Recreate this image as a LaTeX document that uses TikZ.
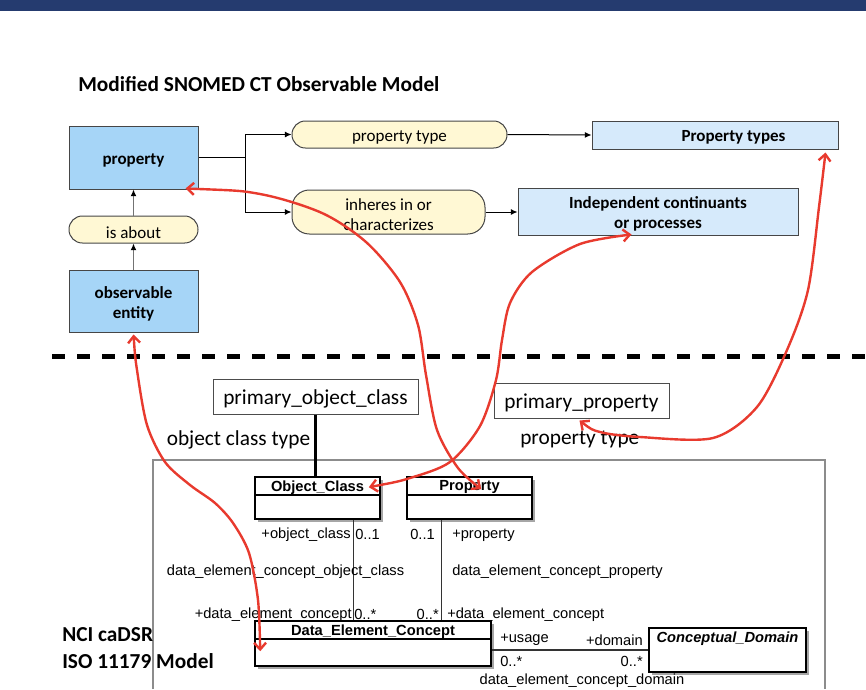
\documentclass[tikz,border=0pt]{standalone}
\usepackage{fontspec}
\setmainfont{Carlito}
\newfontfamily\arialf{Liberation Sans}
\usetikzlibrary{arrows.meta,shadows,calc}
\definecolor{navy}{RGB}{37,59,111}
\definecolor{blueA}{RGB}{166,213,247}
\definecolor{blueB}{RGB}{214,234,251}
\definecolor{pillc}{RGB}{255,248,212}
\definecolor{redc}{RGB}{232,58,46}
\definecolor{bord}{RGB}{70,70,70}
\newcommand\toptxt{\fontsize{12.75}{15}\selectfont}
\newcommand\titletxt{\fontsize{16}{19}\selectfont\bfseries}
\newcommand\umltxt{\arialf\fontsize{11}{13}\selectfont}
\newcommand\bigtxt{\fontsize{16}{19}\selectfont}
\begin{document}
\begin{tikzpicture}[x=0.75pt,y=-0.75pt,
  bbox/.style={draw=bord, line width=0.75pt, inner sep=0pt},
  pill/.style={draw=bord, line width=0.75pt, fill=pillc, rounded corners=10pt, inner sep=0pt},
  ttext/.style={inner sep=0pt, align=center, font=\toptxt, yshift=-2pt},
  btext/.style={ttext, font=\toptxt\bfseries},
  link/.style={draw=black, line width=0.75pt},
  linkarr/.style={link, -{Latex[length=5pt,width=4.5pt]}},
  grayarr/.style={draw=black!55, line width=0.9pt, -{Latex[length=5pt,width=4.5pt,color=black]}},
  typebox/.style={draw=black!70, line width=0.75pt, fill=white, inner sep=0pt},
  bigtext/.style={font=\bigtxt, inner sep=0pt, yshift=-1.8pt},
  umlbox/.style={draw=black, line width=1.2pt, fill=white, inner sep=0pt,
    general shadow={fill=black!35, shadow xshift=2.5pt, shadow yshift=-2.5pt}},
  umltitle/.style={font=\umltxt\bfseries, inner sep=0pt, yshift=-1.2pt},
  umllab/.style={font=\umltxt, inner sep=0pt, yshift=-1.4pt},
  umlc/.style={draw=black!80, line width=0.8pt},
  typelink/.style={draw=black, line width=1.6pt},
  redarr/.style={draw=redc, line width=1.8pt,
    {Straight Barb[length=5pt,width=9pt]}-{Straight Barb[length=5pt,width=9pt]}}
]
\useasboundingbox (0,0) rectangle (866,689);
\fill[navy] (0,0) rectangle (866,11);

% ---------------- upper model ----------------
\node[anchor=west, font=\titletxt, inner sep=0pt] (title) at (78,84) {Modified SNOMED CT Observable Model};

\node[bbox, fill=blueA, minimum width=96.75pt, minimum height=47.25pt] (prop) at (133.5,157.5) {};
\node[btext] (proptxt) at (prop) {property};
\node[pill, minimum width=96.75pt, minimum height=20.25pt] (isabout) at (133.5,229.5) {};
\node[ttext] (isabouttxt) at (isabout) {is about};
\node[bbox, fill=blueA, minimum width=96.75pt, minimum height=46.5pt] (obs) at (133.5,301) {};
\node[btext] (obstxt) at (obs) {observable\\entity};

\node[pill, minimum width=161.25pt, minimum height=20.25pt] (ptype) at (399.5,134.5) {};
\node[ttext] (ptypetxt) at (ptype) {property type};
\node[pill, rounded corners=13pt, minimum width=144.75pt, minimum height=33pt] (inheres) at (388.5,212) {};
\node[ttext] (inherestxt) at (inheres) {inheres in or\\characterizes};

\node[bbox, fill=blueB, minimum width=184.5pt, minimum height=21pt] (ptypes) at (715,135) {};
\node[btext] (ptypestxt) at (733.5,135) {Property types};
\node[bbox, fill=blueB, minimum width=210pt, minimum height=35.25pt] (indep) at (658,211.5) {};
\node[btext] (indeptxt) at (indep) {Independent continuants\\or processes};

\draw[grayarr] (isabout.north) -- (prop.south);
\draw[grayarr] (obs.north) -- (isabout.south);
\draw[link] (prop.east) -- ++(47,0) coordinate (br);
\draw[linkarr] (br) |- (ptype.west);
\draw[linkarr] (br) |- (inheres.west);
\draw[linkarr] (ptype.east) -- (ptypes.west);
\draw[linkarr] (inheres.east) -- (indep.west |- inheres.east);

% ---------------- dashed separator ----------------
\draw[line width=3.75pt, dash pattern=on 9.75pt off 9pt] (52,356) -- (866,356);

% ---------------- lower model ----------------
\draw[black!45, line width=0.8pt] (153,689) -- (153,460) -- (825,460) -- (825,689);

\node[typebox, minimum width=153.75pt, minimum height=26.25pt] (poc) at (315.5,396.5) {};
\node[bigtext] (poctxt) at (poc) {primary\_object\_class};
\node[typebox, minimum width=131.25pt, minimum height=26.25pt] (pp) at (581.5,400.5) {};
\node[bigtext] (pptxt) at (pp) {primary\_property};
\node[bigtext] (octype) at (238.5,438) {object class type};
\node[bigtext, anchor=west] (pptype) at (520,437) {property type};

\node[umlbox, minimum width=93.75pt, minimum height=31.5pt] (oc) at (317.5,498) {};
\node[umlbox, minimum width=93.75pt, minimum height=31.5pt] (propU) at (469.5,498) {};
\node[umlbox, minimum width=177pt, minimum height=33.75pt] (dec) at (373,643.5) {};
\node[umlbox, minimum width=117.75pt, minimum height=33pt] (cd) at (727.5,650) {};

\draw[black, line width=1.2pt] ($(oc.north west)+(0,19)$) -- ($(oc.north east)+(0,19)$);
\draw[black, line width=1.2pt] ($(propU.north west)+(0,19)$) -- ($(propU.north east)+(0,19)$);
\draw[black, line width=1.2pt] ($(dec.north west)+(0,19)$) -- ($(dec.north east)+(0,19)$);

\node[umltitle] (octitle) at ($(oc.north)+(0,9.5)$) {Object\_Class};
\node[umltitle] (proptitle) at ($(propU.north)+(0,9.5)$) {Property};
\node[umltitle] (dectitle) at ($(dec.north)+(0,10)$) {Data\_Element\_Concept};
\node[umltitle, font=\umltxt\bfseries\itshape] (cdtitle) at ($(cd.north)+(0,10)$) {Conceptual\_Domain};

\draw[typelink] (poc.south) -- (poc.south |- oc.north);
\draw[typelink] ($(pp.south west)+(20,0)$) -- ($(pp.south west)+(20,0)$ |- propU.north);

\draw[umlc] ($(oc.south east)+(-27,0)$) coordinate (ocdown) -- (ocdown |- dec.north);
\draw[umlc] ($(propU.south west)+(35,0)$) coordinate (propdown) -- (propdown |- dec.north);
\draw[umlc] (dec.east |- cd.west) -- (cd.west);

\node[umllab, anchor=east] (l1) at (351,533) {+object\_class};
\node[umllab, anchor=west] (l2) at (355,533) {0..1};
\node[umllab, anchor=east] (l3) at (435,533) {0..1};
\node[umllab, anchor=west] (l4) at (452,533) {+property};
\node[umllab] (l5) at (285.5,570) {data\_element\_concept\_object\_class};
\node[umllab, anchor=west] (l6) at (452,570) {data\_element\_concept\_property};
\node[umllab, anchor=east] (l7) at (352,613) {+data\_element\_concept};
\node[umllab, anchor=west] (l8) at (354,613) {0..*};
\node[umllab, anchor=east] (l9) at (439,613) {0..*};
\node[umllab, anchor=west] (l10) at (447,613) {+data\_element\_concept};
\node[umllab, anchor=west] (l11) at (500,638) {+usage};
\node[umllab, anchor=east] (l12) at (643,638) {+domain};
\node[umllab, anchor=west] (l13) at (500,660) {0..*};
\node[umllab, anchor=east] (l14) at (643,660) {0..*};
\node[umllab] (l15) at (582,679) {data\_element\_concept\_domain};

\node[font=\bigtxt\bfseries, anchor=west, inner sep=0pt, yshift=-1.5pt] (nci1) at (62,633) {NCI caDSR};
\node[font=\bigtxt\bfseries, anchor=west, inner sep=0pt, yshift=-1.5pt] (nci2) at (62,659) {ISO 11179 Model};

% ---------------- red mapping curves ----------------
\coordinate (r1a) at ($(prop.south east)+(-13,-1)$);
\coordinate (r1b) at ($(propU.north west)+(75,13)$);
\coordinate (r2a) at ($(oc.north east)+(-12,11)$);
\coordinate (r2b) at ($(indep.south west)+(114,-1)$);
\coordinate (r3a) at ($(pp.south west)+(86,2)$);
\coordinate (r3b) at ($(ptypes.south east)+(-13,3)$);
\coordinate (r4a) at ($(obs.south)+(0,2)$);
\coordinate (r4b) at ($(dec.north west)+(6,31)$);

\draw[redarr] plot[smooth] coordinates {(r1a) (260,194) (322,213) (366,242) (400,282) (418,325) (426,375) (437,430) (458,468) (r1b)};
\draw[redarr] plot[smooth] coordinates {(r2a) (410,478) (450,462) (480,426) (496,380) (502,340) (510,303) (532,272) (580,244) (r2b)};
\draw[redarr] plot[smooth] coordinates {(r3a) (600,432) (640,437) (713,438) (757,407) (787,350) (808,290) (819,207) (r3b)};
\draw[redarr] plot[smooth] coordinates {(r4a) (137,370) (147,425) (165,462) (190,485) (215,503) (233,523) (249,553) (258,600) (r4b)};
\end{tikzpicture}
\end{document}
